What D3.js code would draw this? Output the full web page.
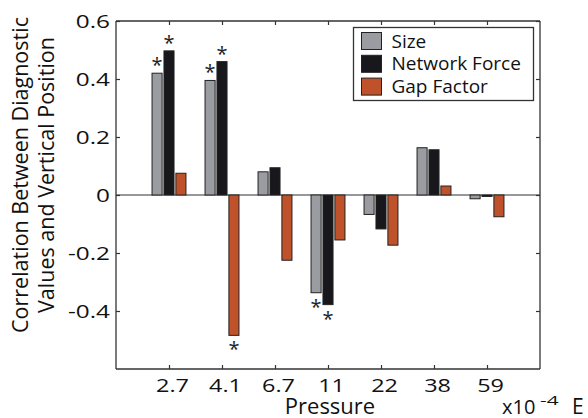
<!DOCTYPE html>
<html>
<head>
<meta charset="utf-8">
<script src="https://cdn.jsdelivr.net/npm/d3@7"></script>
<style>
  html, body { margin: 0; padding: 0; background: #fff; }
  svg { display: block; font-family: "Open Sans", "Noto Sans", sans-serif; }
</style>
</head>
<body>
<svg id="chart" width="588" height="418"></svg>
<script>
// Pressure levels (x10^-4 E) along the x axis
const pressures = ["2.7", "4.1", "6.7", "11", "22", "38", "59"];

// Correlation of each diagnostic with vertical position
const sizeValues    = [0.42, 0.395, 0.08, -0.337, -0.067, 0.163, -0.013];
const networkValues = [0.497, 0.46, 0.094, -0.378, -0.117, 0.156, -0.005];
const gapValues     = [0.075, -0.484, -0.225, -0.155, -0.173, 0.031, -0.075];

// Significance flags (drawn as asterisks)
const sizeSig    = [true, true, false, true, false, false, false];
const networkSig = [true, true, false, true, false, false, false];
const gapSig     = [false, true, false, false, false, false, false];

const seriesNames = ["Size", "Network Force", "Gap Factor"];
const yTicks = [-0.4, -0.2, 0, 0.2, 0.4, 0.6];

const series = [
  { name: seriesNames[0], values: sizeValues, sig: sizeSig, color: "#9a9ca2", offset: -0.225 },
  { name: seriesNames[1], values: networkValues, sig: networkSig, color: "#18181c", offset: 0 },
  { name: seriesNames[2], values: gapValues, sig: gapSig, color: "#c0522b", offset: 0.225 }
];

const svg = d3.select("#chart");
const margin = { left: 116, right: 48, top: 21, bottom: 49 };
const W = 588, H = 418;

const x = d3.scaleLinear().domain([0, pressures.length + 1]).range([margin.left, W - margin.right]);
const y = d3.scaleLinear().domain([-0.6, 0.6]).range([H - margin.bottom, margin.top]);
const barW = 0.19;
const axisColor = "#333";

// widen glyphs horizontally by a factor (the labels use a broad face)
function widen(sel, f) {
  sel.each(function () {
    const w = this.getComputedTextLength();
    d3.select(this).attr("textLength", w * f).attr("lengthAdjust", "spacingAndGlyphs");
  });
}

// zero line
svg.append("line")
  .attr("x1", x(0)).attr("x2", x(pressures.length + 1))
  .attr("y1", y(0)).attr("y2", y(0))
  .attr("stroke", axisColor).attr("stroke-width", 1.2);

// bars
series.forEach(s => {
  svg.append("g").selectAll("rect")
    .data(s.values)
    .join("rect")
    .attr("x", (d, i) => x(i + 1 + s.offset - barW / 2))
    .attr("width", x(barW) - x(0))
    .attr("y", d => y(Math.max(0, d)))
    .attr("height", d => Math.max(1, Math.abs(y(d) - y(0))))
    .attr("fill", s.color)
    .attr("stroke", "#222")
    .attr("stroke-width", 1);

  // significance asterisks
  svg.append("g").selectAll("text")
    .data(s.values.map((v, i) => ({ v, i, sig: s.sig[i] })).filter(d => d.sig))
    .join("text")
    .attr("x", d => x(d.i + 1 + s.offset))
    .attr("y", d => d.v >= 0 ? y(d.v) - 1 : y(d.v) + 21)
    .attr("text-anchor", "middle")
    .attr("font-size", 20)
    .attr("fill", "#222")
    .text("*");
});

// axes (ticks pointing inward)
const xTicks = d3.range(1, pressures.length + 1);
const bottomAxis = d3.axisBottom(x).tickValues(xTicks).tickSize(-4).tickPadding(10)
  .tickFormat(d => pressures[d - 1]);
const topAxis = d3.axisTop(x).tickValues(xTicks).tickSize(-4).tickFormat("");
const leftAxis = d3.axisLeft(y).tickValues(yTicks).tickSize(-4).tickPadding(6)
  .tickFormat(d => d === 0 ? "0" : d3.format(".1f")(d).replace("−", "-"));
const rightAxis = d3.axisRight(y).tickValues(yTicks).tickSize(-4).tickFormat("");

function styleAxis(g) {
  g.select(".domain").attr("stroke", axisColor).attr("stroke-width", 1.3);
  g.selectAll(".tick line").attr("stroke", axisColor).attr("stroke-width", 1.2);
  g.selectAll(".tick text").attr("fill", "#111").attr("font-size", 18)
    .attr("font-family", "'Open Sans', 'Noto Sans', sans-serif");
}

svg.append("g").attr("transform", `translate(0,${H - margin.bottom})`).call(bottomAxis)
  .call(g => g.select(".domain").attr("d", `M${x(0)},0H${x(pressures.length + 1)}`)).call(styleAxis)
  .call(g => g.selectAll(".tick text").attr("dx", 3).call(widen, 1.3));
svg.append("g").attr("transform", `translate(0,${margin.top})`).call(topAxis)
  .call(g => g.select(".domain").attr("d", `M${x(0)},0H${x(pressures.length + 1)}`)).call(styleAxis);
svg.append("g").attr("transform", `translate(${margin.left},0)`).call(leftAxis)
  .call(g => g.select(".domain").attr("d", `M0,${y(-0.6)}V${y(0.6)}`)).call(styleAxis)
  .call(g => g.selectAll(".tick text").attr("font-size", 19).call(widen, 1.28));
svg.append("g").attr("transform", `translate(${W - margin.right},0)`).call(rightAxis)
  .call(g => g.select(".domain").attr("d", `M0,${y(-0.6)}V${y(0.6)}`)).call(styleAxis);

// axis titles
svg.append("text")
  .attr("x", 330).attr("y", 414)
  .attr("text-anchor", "middle").attr("font-size", 22).attr("fill", "#111")
  .text("Pressure");

svg.append("text").attr("x", 502).attr("y", 414)
  .attr("font-size", 20).attr("fill", "#111").text("x10");
svg.append("text").attr("x", 540).attr("y", 405)
  .attr("font-size", 13).attr("fill", "#111").text("-4")
  .call(widen, 1.6);
svg.append("text").attr("x", 572).attr("y", 414)
  .attr("font-size", 21).attr("fill", "#111").text("E");

const yTitle = svg.append("text")
  .attr("transform", "translate(0,175) rotate(-90)")
  .attr("text-anchor", "middle").attr("font-size", 21.5).attr("fill", "#111");
yTitle.append("tspan").attr("x", 0).attr("y", 28).text("Correlation Between Diagnostic");
yTitle.append("tspan").attr("x", 0).attr("y", 54).text("Values and Vertical Position");

// legend
const lg = svg.append("g").attr("transform", "translate(353.5,27.5)");
lg.append("rect").attr("width", 180).attr("height", 73)
  .attr("fill", "#fff").attr("stroke", axisColor).attr("stroke-width", 1.3);
series.forEach((s, i) => {
  const row = lg.append("g").attr("transform", `translate(8,${5 + i * 22.8})`);
  row.append("rect").attr("width", 20).attr("height", 17)
    .attr("fill", s.color).attr("stroke", "#222").attr("stroke-width", 1);
  row.append("text").attr("x", 30).attr("y", 15)
    .attr("font-size", 19).attr("fill", "#111").text(s.name);
});
</script>
</body>
</html>
